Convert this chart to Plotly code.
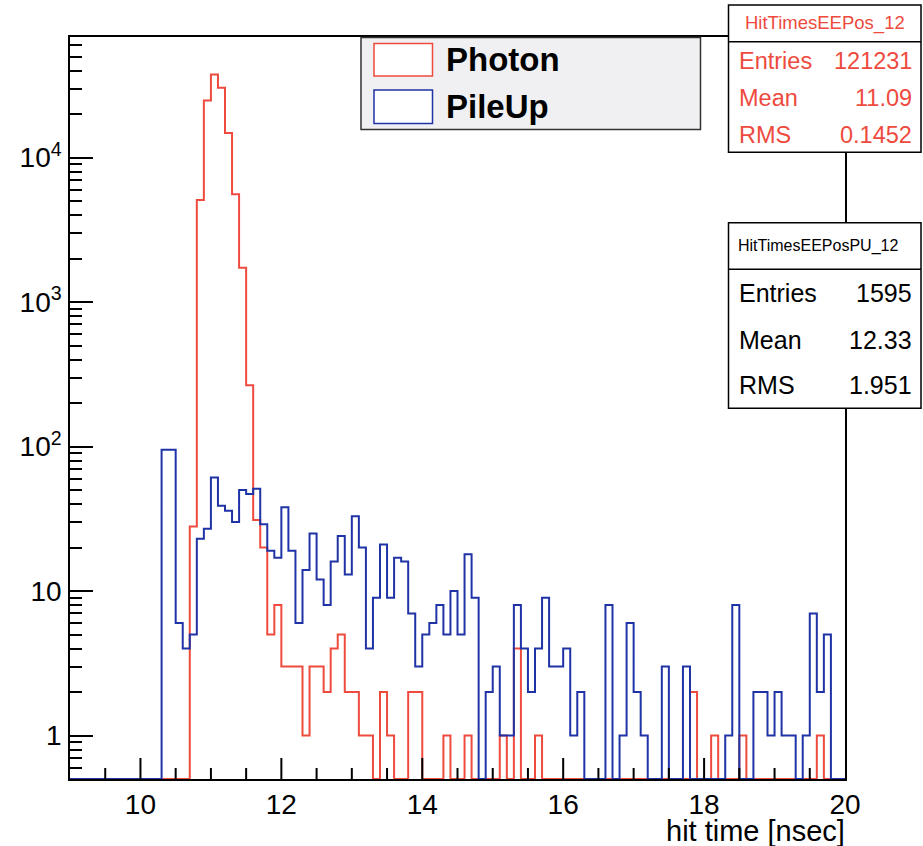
import numpy as np
import plotly.graph_objects as go

# Histogram binning: 110 bins of 0.1 ns between 9 and 20 ns
x_min, x_max, bin_width = 9.0, 20.0, 0.1
edges = np.round(np.arange(x_min, x_max + bin_width / 2, bin_width), 2)

# Bin contents starting at 10.3 ns (PileUp) and 10.7 ns (Photon); earlier bins are empty
pileup_start = 10.3
pileup_counts = [
    95, 95, 6, 4, 5, 23, 27, 61, 39, 36, 30, 50, 47, 51, 29, 19, 17,   # 10.3 - 11.9
    38, 19, 6, 14, 25, 12, 8, 16, 24, 13,                              # 12.0 - 12.9
    33, 20, 4, 9, 21, 9, 17, 16, 7, 3,                                 # 13.0 - 13.9
    5, 6, 8, 5, 10, 5, 18, 9, 0, 2,                                    # 14.0 - 14.9
    3, 1, 1, 8, 4, 2, 4, 9, 3, 3,                                      # 15.0 - 15.9
    4, 1, 2, 0, 0, 0, 8, 0, 1, 6,                                      # 16.0 - 16.9
    2, 1, 0, 0, 3, 0, 0, 3, 0, 0,                                      # 17.0 - 17.9
    0, 0, 0, 1, 8, 0, 0, 2, 2, 1,                                      # 18.0 - 18.9
    2, 1, 1, 0, 1, 7, 2, 5, 0, 0,                                      # 19.0 - 19.9
]
photon_start = 10.7
photon_counts = [
    28, 5100, 24900, 37600, 30400, 14800, 5570, 1730, 266, 31, 20, 5, 8,  # 10.7 - 11.9
    3, 3, 3, 1, 3, 3, 2, 4, 5, 2,                                         # 12.0 - 12.9
    2, 1, 1, 0, 2, 1, 0, 0, 2, 2,                                         # 13.0 - 13.9
    0, 0, 0, 1, 0, 0, 1, 0, 0, 0,                                         # 14.0 - 14.9
    0, 1, 0, 4, 0, 0, 1, 0, 0, 0,                                         # 15.0 - 15.9
    0, 0, 0, 0, 0, 0, 0, 0, 0, 0,                                         # 16.0 - 16.9
    0, 0, 0, 0, 0, 0, 0, 0, 2, 0,                                         # 17.0 - 17.9
    0, 1, 0, 0, 0, 1, 0, 0, 0, 0,                                         # 18.0 - 18.9
    0, 0, 0, 0, 0, 0, 1, 0, 0, 0,                                         # 19.0 - 19.9
]

series_names = ["Photon", "PileUp"]
stats_titles = ["HitTimesEEPos_12", "HitTimesEEPosPU_12"]
stats_labels = ["Entries", "Mean", "RMS"]
stats_photon = ["121231", "11.09", "0.1452"]
stats_pileup = ["1595", "12.33", "1.951"]

x_ticks = [10, 12, 14, 16, 18, 20]
x_minor_step = 0.5
y_ticks = [1, 10, 100, 1000, 10000]
y_ticktext = ["1", "10", "10<sup>2</sup>", "10<sup>3</sup>", "10<sup>4</sup>"]
x_title = "hit time [nsec]"

RED = "#ee4a3e"
BLUE = "#1f33a6"
FONT = "Liberation Sans, Arial, Helvetica, sans-serif"

W, H = 923, 846
ML, MR, MT, MB = 70, 78, 37, 67
PW, PH = W - ML - MR, H - MT - MB
y_range = [np.log10(0.5), 4.835]
y_floor = 10 ** y_range[0]
X_MAJOR_LEN, X_MINOR_LEN = 21, 11


def full_hist(start, counts):
    n_bins = len(edges) - 1
    out = np.zeros(n_bins)
    i0 = int(round((start - x_min) / bin_width))
    out[i0:i0 + len(counts)] = counts
    return out


def step_xy(contents):
    # empty bins sit on the lower frame edge, as on a log axis they have no height
    y = np.where(contents > 0, contents, y_floor)
    return edges, np.append(y, y[-1])


def px(x):
    return (x - ML) / PW


def py(y):
    return (H - MB - y) / PH


fig = go.Figure()
for name, start, counts, color in [
    (series_names[0], photon_start, photon_counts, RED),
    (series_names[1], pileup_start, pileup_counts, BLUE),
]:
    xs, ys = step_xy(full_hist(start, counts))
    fig.add_trace(go.Scatter(
        x=xs, y=ys, mode="lines", name=name, showlegend=False,
        line=dict(color=color, width=2, shape="hv"), hoverinfo="skip",
    ))

shapes = []
annotations = []

# Inward tick marks along the x axis (long at labelled values, short every half unit)
x_minor_vals = [float(v) for v in np.round(np.arange(x_min, x_max + 1e-9, x_minor_step), 2)]
for v in x_minor_vals:
    if v in (x_min, x_max):
        continue
    tick_len = X_MAJOR_LEN if v in x_ticks else X_MINOR_LEN
    shapes.append(dict(type="line", xref="x", yref="paper", x0=v, x1=v,
                       y0=0, y1=tick_len / PH, layer="above",
                       line=dict(color="black", width=2)))

# Legend box
shapes.append(dict(type="rect", xref="paper", yref="paper",
                   x0=px(361), x1=px(700.5), y0=py(37.5), y1=py(129.5),
                   fillcolor="#f0f0f2", line=dict(color="#333333", width=1.5)))
for (y0, y1), name, color in zip([(43.5, 76), (90, 123.5)],
                                 series_names, [RED, BLUE]):
    shapes.append(dict(type="rect", xref="paper", yref="paper",
                       x0=px(374), x1=px(432.5), y0=py(y0), y1=py(y1),
                       fillcolor="white", line=dict(color=color, width=1.5)))
    annotations.append(dict(xref="paper", yref="paper", x=px(443.5),
                            y=py((y0 + y1) / 2), text="<b>%s</b>" % name,
                            showarrow=False, xanchor="left", yanchor="middle",
                            font=dict(family=FONT, size=33, color="black")))

# Statistics boxes
boxes = [
    dict(top=5, sep=41.7, bottom=152.3, title=stats_titles[0], values=stats_photon,
         color=RED, tsize=18.5, size=23.5, rows=[61, 98, 135], title_x=824.5,
         title_anchor="center"),
    dict(top=222.7, sep=269.3, bottom=408.3, title=stats_titles[1], values=stats_pileup,
         color="black", tsize=16, size=25, rows=[293.3, 340, 385], title_x=736,
         title_anchor="left"),
]
for b in boxes:
    shapes.append(dict(type="rect", xref="paper", yref="paper",
                       x0=px(728.5), x1=px(921), y0=py(b["top"]), y1=py(b["bottom"]),
                       fillcolor="white", line=dict(color="black", width=1.5)))
    shapes.append(dict(type="line", xref="paper", yref="paper",
                       x0=px(728.5), x1=px(921), y0=py(b["sep"]), y1=py(b["sep"]),
                       line=dict(color="black", width=1.5)))
    annotations.append(dict(xref="paper", yref="paper", x=px(b["title_x"]),
                            y=py((b["top"] + b["sep"]) / 2), text=b["title"],
                            showarrow=False, xanchor=b["title_anchor"], yanchor="middle",
                            font=dict(family=FONT, size=b["tsize"], color=b["color"])))
    for label, value, yc in zip(stats_labels, b["values"], b["rows"]):
        annotations.append(dict(xref="paper", yref="paper", x=px(736.5), y=py(yc),
                                text=label, showarrow=False, xanchor="left",
                                yanchor="middle",
                                font=dict(family=FONT, size=b["size"], color=b["color"])))
        annotations.append(dict(xref="paper", yref="paper", x=px(914), y=py(yc),
                                text=value, showarrow=False, xanchor="right",
                                yanchor="middle",
                                font=dict(family=FONT, size=b["size"], color=b["color"])))

# Axis title, right-aligned at the end of the x axis
annotations.append(dict(xref="paper", yref="paper", x=px(847), y=py(831), text=x_title,
                        showarrow=False, xanchor="right", yanchor="middle",
                        font=dict(family=FONT, size=29, color="black")))

fig.update_layout(
    width=W, height=H,
    margin=dict(l=ML, r=MR, t=MT, b=MB, pad=0),
    paper_bgcolor="white", plot_bgcolor="white",
    font=dict(family=FONT, color="black"),
    shapes=shapes, annotations=annotations,
    xaxis=dict(
        range=[x_min, x_max], anchor="y", side="bottom",
        tickmode="array", tickvals=x_ticks, ticks="", showgrid=False,
        zeroline=False, showline=True, linecolor="black", linewidth=1.5,
        mirror=True, tickfont=dict(family=FONT, size=28),
    ),
    yaxis=dict(
        type="log", range=y_range, tickvals=y_ticks, ticktext=y_ticktext,
        ticks="inside", ticklen=23, tickwidth=1.5, tickcolor="black",
        showgrid=False, zeroline=False, showline=True, linecolor="black",
        linewidth=1.5, mirror=True, tickfont=dict(family=FONT, size=28),
        ticklabelstandoff=1,
        minor=dict(ticks="inside", ticklen=12, tickwidth=1.5, tickcolor="black",
                   dtick="D1", showgrid=False),
        layer="below traces",
    ),
)

fig.write_html("out.html")
